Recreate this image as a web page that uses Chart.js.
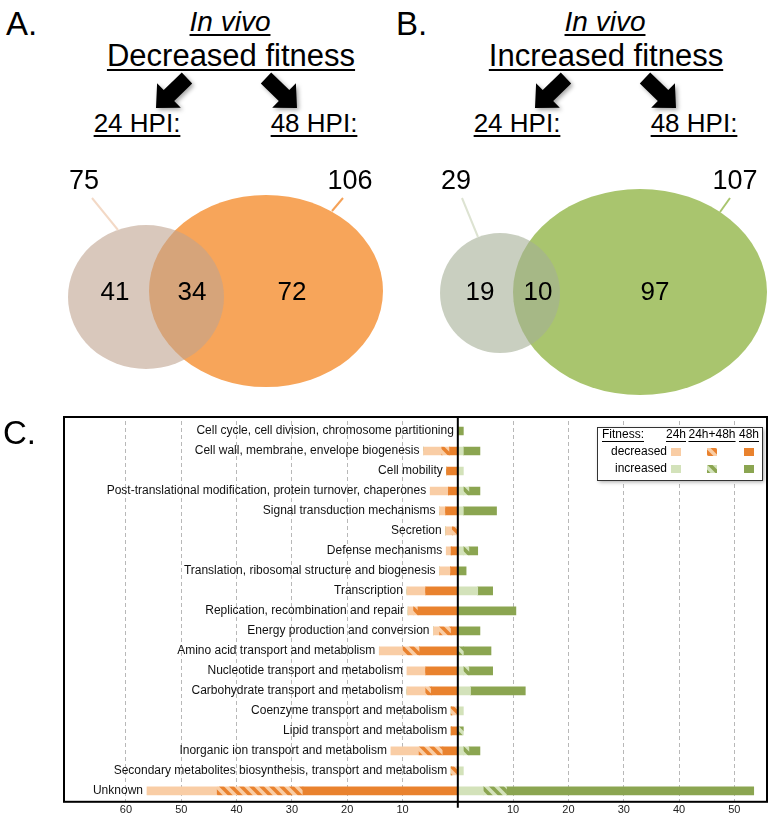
<!DOCTYPE html>
<html>
<head>
<meta charset="utf-8">
<script src="https://cdn.jsdelivr.net/npm/chart.js@4.4.1/dist/chart.umd.min.js"></script>
<style>
  body { margin: 0; background: #fff; }
  #page { position: relative; width: 778px; height: 824px; overflow: hidden;
          font-family: "Liberation Sans", Arial, Helvetica, sans-serif; color: #000; }
  canvas { position: absolute; }
  .lbl { position: absolute; white-space: nowrap; line-height: 1; }
  .c { transform: translateX(-50%); }
  .u { text-decoration: underline; text-decoration-thickness: 2px; text-underline-offset: 3px; }
  svg { position: absolute; left: 0; top: 0; }
</style>
</head>
<body>
<div id="page">
  <canvas id="vennA" width="389" height="250" style="left:0;top:150px"></canvas>
  <canvas id="vennB" width="389" height="250" style="left:389px;top:150px"></canvas>
  <canvas id="cogChart" width="778" height="424" style="left:0;top:400px"></canvas>
  <svg id="arrows" width="778" height="150"></svg>

  <div class="lbl" style="left:6px;top:7px;font-size:33px">A.</div>
  <div class="lbl c u" style="left:230px;top:8px;font-size:28px;font-style:italic">In vivo</div>
  <div class="lbl c u" style="left:231px;top:40px;font-size:31px">Decreased fitness</div>
  <div class="lbl c u" style="left:137px;top:110px;font-size:26px">24 HPI:</div>
  <div class="lbl c u" style="left:314px;top:110px;font-size:26px">48 HPI:</div>

  <div class="lbl" style="left:396px;top:7px;font-size:33px">B.</div>
  <div class="lbl c u" style="left:605px;top:8px;font-size:28px;font-style:italic">In vivo</div>
  <div class="lbl c u" style="left:606px;top:40px;font-size:31px">Increased fitness</div>
  <div class="lbl c u" style="left:517px;top:110px;font-size:26px">24 HPI:</div>
  <div class="lbl c u" style="left:694px;top:110px;font-size:26px">48 HPI:</div>

  <div class="lbl" style="left:3px;top:416px;font-size:33px">C.</div>
</div>
<script>
const FONT = '"Liberation Sans", Arial, Helvetica, sans-serif';

// ---- Panel A / B : Venn counts ----
const vennDecreasedTotals = [75, 106];      // 24 HPI, 48 HPI
const vennDecreasedRegions = [41, 34, 72];  // 24h only, both, 48h only
const vennIncreasedTotals = [29, 107];
const vennIncreasedRegions = [19, 10, 97];

// ---- Panel C : COG categories ----
const categories = [
  'Cell cycle, cell division, chromosome partitioning',
  'Cell wall, membrane, envelope biogenesis',
  'Cell mobility',
  'Post-translational modification, protein turnover, chaperones',
  'Signal transduction mechanisms',
  'Secretion',
  'Defense mechanisms',
  'Translation, ribosomal structure and biogenesis',
  'Transcription',
  'Replication, recombination and repair',
  'Energy production and conversion',
  'Amino acid transport and metabolism',
  'Nucleotide transport and metabolism',
  'Carbohydrate transport and metabolism',
  'Coenzyme transport and metabolism',
  'Lipid transport and metabolism',
  'Inorganic ion transport and metabolism',
  'Secondary metabolites biosynthesis, transport and metabolism',
  'Unknown'
];
// decreased fitness (drawn to the left of zero)
const dec48h  = [0, 1.5, 2, 1.7, 2.2, 0, 1.2, 1.3, 5.8, 7.2, 1.2, 6.9, 5.8, 4.8, 0, 1.2, 2.7, 0, 28];
const decBoth = [0, 1.4, 0, 0, 0, 1, 0, 0, 0, 0.8, 2.1, 3, 0, 1, 1.2, 0, 4.3, 1.2, 15.5];
const dec24h  = [0, 3.3, 0, 3.3, 1.1, 1.2, 0.9, 2, 3.4, 1, 1.1, 4.3, 3.4, 3.4, 0, 0, 5.1, 0, 12.7];
// increased fitness (drawn to the right of zero)
const inc24h  = [0, 1, 1, 1, 1, 0, 1, 0, 3.6, 0, 0, 0, 1, 2.3, 1, 0, 1, 1, 4.6];
const incBoth = [0, 0, 0, 1, 0, 0, 1, 0, 0, 0, 0, 1, 1, 0, 0, 1, 1, 0, 4.2];
const inc48h  = [1, 3, 0, 2, 6, 0, 1.6, 1.5, 2.7, 10.5, 4, 5, 4.3, 9.9, 0, 0, 2, 0, 44.7];
const xTicks = [-60, -50, -40, -30, -20, -10, 0, 10, 20, 30, 40, 50];

// colours
const ORANGE = '#E9822E', ORANGE_LT = '#F9CDA5';
const GREEN = '#8BA551', GREEN_LT = '#D3E2BA';

function hatch(base, stripe) {
  const c = document.createElement('canvas');
  c.width = c.height = 10;
  const g = c.getContext('2d');
  g.fillStyle = base;
  g.fillRect(0, 0, 10, 10);
  g.strokeStyle = stripe;
  g.lineWidth = 3.5;
  g.beginPath();
  g.moveTo(-5, -5); g.lineTo(15, 15);
  g.moveTo(-5, 5); g.lineTo(5, 15);
  g.moveTo(5, -5); g.lineTo(15, 5);
  g.stroke();
  return g.createPattern(c, 'repeat');
}
const ORANGE_HATCH = hatch(ORANGE, ORANGE_LT);
const GREEN_HATCH = hatch(GREEN, GREEN_LT);

// ---- arrows under the titles ----
function arrow(t, p) {
  const dx = p[0] - t[0], dy = p[1] - t[1], len = Math.hypot(dx, dy);
  const ux = dx / len, uy = dy / len, nx = -uy, ny = ux;
  const w = 7.5, W = 17, H = 18;
  const bx = p[0] - ux * H, by = p[1] - uy * H;
  const pts = [
    [t[0] + nx * w, t[1] + ny * w], [bx + nx * w, by + ny * w], [bx + nx * W, by + ny * W],
    p, [bx - nx * W, by - ny * W], [bx - nx * w, by - ny * w], [t[0] - nx * w, t[1] - ny * w]
  ];
  return '<polygon points="' + pts.map(q => q[0].toFixed(1) + ',' + q[1].toFixed(1)).join(' ') +
    '" fill="#000" style="filter:drop-shadow(2px 2px 2px rgba(0,0,0,0.35))"/>';
}
document.getElementById('arrows').innerHTML =
  arrow([187, 78], [156, 108]) + arrow([266, 78], [297, 108]) +
  arrow([566, 78], [535, 108]) + arrow([645, 78], [676, 108]);

// ---- Venn diagrams ----
const vennPlugin = {
  id: 'venn',
  beforeDatasetsDraw(chart) {
    const { ctx, scales: { x, y } } = chart;
    ctx.save();
    chart.data.datasets.forEach(ds => {
      const d = ds.data[0];
      const cx = x.getPixelForValue(d.x), cy = y.getPixelForValue(d.y);
      const rx = Math.abs(x.getPixelForValue(d.x + ds.rx) - cx);
      const ry = Math.abs(y.getPixelForValue(d.y + ds.ry) - cy);
      ctx.fillStyle = ds.fillColor;
      ctx.beginPath();
      ctx.ellipse(cx, cy, rx, ry, 0, 0, Math.PI * 2);
      ctx.fill();
    });
    ctx.restore();
  },
  afterDatasetsDraw(chart, args, opts) {
    const { ctx, scales: { x, y } } = chart;
    ctx.save();
    ctx.lineWidth = 2;
    opts.leaders.forEach(l => {
      ctx.strokeStyle = l.color;
      ctx.beginPath();
      ctx.moveTo(x.getPixelForValue(l.from[0]), y.getPixelForValue(l.from[1]));
      ctx.lineTo(x.getPixelForValue(l.to[0]), y.getPixelForValue(l.to[1]));
      ctx.stroke();
    });
    ctx.fillStyle = '#000';
    ctx.textAlign = 'center';
    ctx.textBaseline = 'middle';
    ctx.font = '26px ' + FONT;
    opts.regions.forEach((v, i) => {
      const s = opts.regionSpots[i];
      ctx.fillText(String(v), x.getPixelForValue(s[0]), y.getPixelForValue(s[1]));
    });
    ctx.font = '27px ' + FONT;
    opts.totals.forEach((v, i) => {
      const s = opts.totalSpots[i];
      ctx.fillText(String(v), x.getPixelForValue(s[0]), y.getPixelForValue(s[1]));
    });
    ctx.restore();
  }
};

function makeVenn(id, sets, venn) {
  return new Chart(document.getElementById(id), {
    type: 'scatter',
    data: {
      datasets: sets.map(s => ({
        data: [{ x: s.cx, y: s.cy }], rx: s.rx, ry: s.ry, fillColor: s.color, pointRadius: 0
      }))
    },
    options: {
      responsive: false,
      animation: false,
      layout: { padding: 0 },
      plugins: { legend: { display: false }, tooltip: { enabled: false }, venn: venn },
      scales: {
        x: { type: 'linear', min: 0, max: 389, display: false },
        y: { type: 'linear', min: 0, max: 250, reverse: true, display: false }
      }
    },
    plugins: [vennPlugin]
  });
}

makeVenn('vennA', [
  { cx: 266, cy: 141, rx: 117, ry: 96, color: '#F7A55A' },
  { cx: 146, cy: 147, rx: 78, ry: 72, color: 'rgba(192,163,143,0.6)' }
], {
  regions: vennDecreasedRegions, regionSpots: [[115, 143], [192, 143], [292, 143]],
  totals: vennDecreasedTotals, totalSpots: [[84, 32], [350, 32]],
  leaders: [
    { from: [92, 48], to: [118, 80], color: '#F3D9C6' },
    { from: [343, 48], to: [332, 61], color: '#F5A258' }
  ]
});

makeVenn('vennB', [
  { cx: 251, cy: 142, rx: 127, ry: 103, color: '#A9C56E' },
  { cx: 111, cy: 143, rx: 60, ry: 60, color: 'rgba(165,175,150,0.6)' }
], {
  regions: vennIncreasedRegions, regionSpots: [[91, 143], [149, 143], [266, 143]],
  totals: vennIncreasedTotals, totalSpots: [[67, 32], [346, 32]],
  leaders: [
    { from: [73, 48], to: [89, 87], color: '#DDE3D2' },
    { from: [341, 48], to: [331, 62], color: '#A9C56E' }
  ]
});

// ---- Panel C ----
const cogPlugin = {
  id: 'cogDecor',
  afterDatasetsDraw(chart) {
    const { ctx, chartArea: a, scales: { x, y } } = chart;
    ctx.save();
    // category names, right aligned at the left end of each row
    ctx.font = '12px ' + FONT;
    ctx.fillStyle = '#111';
    ctx.textAlign = 'right';
    ctx.textBaseline = 'middle';
    categories.forEach((lab, i) => {
      const left = -(dec48h[i] + decBoth[i] + dec24h[i]);
      ctx.fillText(lab, x.getPixelForValue(left) - 4, y.getPixelForValue(i));
    });
    // zero line
    const x0 = x.getPixelForValue(0);
    ctx.strokeStyle = '#000';
    ctx.lineWidth = 2;
    ctx.beginPath();
    ctx.moveTo(x0, a.top - 4);
    ctx.lineTo(x0, a.bottom + 7);
    ctx.stroke();
    // frame
    ctx.strokeRect(a.left, a.top - 4, a.right - a.left, a.bottom - a.top + 5);
    ctx.restore();
  },
  afterDraw(chart) {
    const { ctx, chartArea: a } = chart;
    const L = a.right - 170, T = a.top + 6, W = 165, H = 53;
    ctx.save();
    ctx.shadowColor = 'rgba(0,0,0,0.35)';
    ctx.shadowBlur = 4;
    ctx.shadowOffsetX = 2;
    ctx.shadowOffsetY = 2;
    ctx.fillStyle = '#fff';
    ctx.fillRect(L, T, W, H);
    ctx.shadowColor = 'transparent';
    ctx.strokeStyle = '#333';
    ctx.lineWidth = 1;
    ctx.strokeRect(L + 0.5, T + 0.5, W, H);

    ctx.font = '12px ' + FONT;
    ctx.fillStyle = '#000';
    ctx.textBaseline = 'middle';
    const under = (txt, xc, yc, align) => {
      ctx.textAlign = align;
      ctx.fillText(txt, xc, yc);
      const w = ctx.measureText(txt).width;
      const x1 = align === 'center' ? xc - w / 2 : xc;
      ctx.fillRect(x1, yc + 6, w, 1);
    };
    const ty = T + 8;
    under('Fitness:', L + 5, ty, 'left');
    const cols = [L + 79, L + 115, L + 152];
    under('24h', cols[0], ty, 'center');
    under('24h+48h', cols[1], ty, 'center');
    under('48h', cols[2], ty, 'center');
    const rows = [
      { name: 'decreased', y: T + 25, fills: [ORANGE_LT, ORANGE_HATCH, ORANGE] },
      { name: 'increased', y: T + 42, fills: [GREEN_LT, GREEN_HATCH, GREEN] }
    ];
    rows.forEach(r => {
      ctx.textAlign = 'right';
      ctx.fillStyle = '#000';
      ctx.fillText(r.name, L + 70, r.y);
      r.fills.forEach((f, j) => {
        ctx.fillStyle = f;
        ctx.fillRect(cols[j] - 5, r.y - 4, 10, 8);
      });
    });
    ctx.restore();
  }
};

const barDefaults = { barThickness: 8, borderWidth: 0, borderSkipped: false };
new Chart(document.getElementById('cogChart'), {
  type: 'bar',
  data: {
    labels: categories,
    datasets: [
      { label: 'decreased 48h', data: dec48h.map(v => -v), backgroundColor: ORANGE, ...barDefaults },
      { label: 'decreased 24h+48h', data: decBoth.map(v => -v), backgroundColor: ORANGE_HATCH, ...barDefaults },
      { label: 'decreased 24h', data: dec24h.map(v => -v), backgroundColor: ORANGE_LT, ...barDefaults },
      { label: 'increased 24h', data: inc24h, backgroundColor: GREEN_LT, ...barDefaults },
      { label: 'increased 24h+48h', data: incBoth, backgroundColor: GREEN_HATCH, ...barDefaults },
      { label: 'increased 48h', data: inc48h, backgroundColor: GREEN, ...barDefaults }
    ]
  },
  options: {
    responsive: false,
    animation: false,
    indexAxis: 'y',
    layout: { padding: { left: 64, right: 11, top: 21, bottom: 4 } },
    plugins: { legend: { display: false }, tooltip: { enabled: false } },
    scales: {
      x: {
        stacked: true,
        min: -71.2,
        max: 55.9,
        afterBuildTicks: s => { s.ticks = xTicks.map(v => ({ value: v })); },
        grid: {
          color: c => (c.tick && c.tick.value === 0) ? 'rgba(0,0,0,0)' : '#b8b8b8',
          lineWidth: 1,
          drawTicks: false
        },
        border: { display: false, dash: [4, 3] },
        ticks: {
          padding: 3,
          color: '#222',
          autoSkip: false,
          maxRotation: 0,
          font: { size: 11, family: FONT },
          callback: v => v === 0 ? '' : Math.abs(v)
        }
      },
      y: { stacked: true, display: false }
    }
  },
  plugins: [cogPlugin]
});
</script>
</body>
</html>
